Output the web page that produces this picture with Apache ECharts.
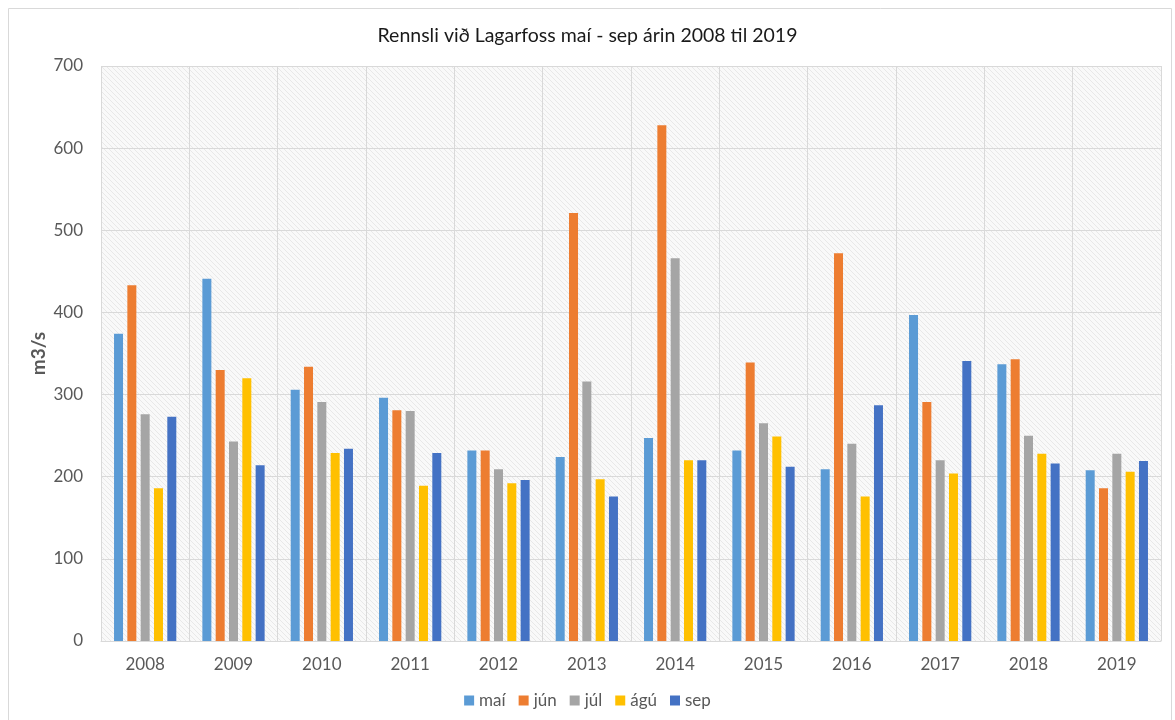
<!DOCTYPE html>
<html>
<head>
<meta charset="utf-8">
<script src="https://cdn.jsdelivr.net/npm/echarts@6/dist/echarts.min.js"></script>
<style>html,body{margin:0;padding:0;background:#fff}#c{width:1175px;height:720px}</style>
</head>
<body>
<div id="c"></div>
<script>
const years = ['2008','2009','2010','2011','2012','2013','2014','2015','2016','2017','2018','2019'];
const mai = [374, 441, 306, 296, 232, 224, 247, 232, 209, 397, 337, 208];
const jun = [433, 330, 334, 281, 232, 521, 628, 339, 472, 291, 343, 186];
const jul = [276, 243, 291, 280, 209, 316, 466, 265, 240, 220, 250, 228];
const agu = [186, 320, 229, 189, 192, 197, 220, 249, 176, 204, 228, 206];
const sep = [273, 214, 234, 229, 196, 176, 220, 212, 287, 341, 216, 219];
const seriesNames = ['maí','jún','júl','ágú','sep'];
const seriesColors = ['#5b9bd5','#ed7d31','#a5a5a5','#ffc000','#4472c4'];
const seriesData = [mai, jun, jul, agu, sep];

// hatch pattern for plot background
const pc = document.createElement('canvas');
pc.width = 5; pc.height = 5;
const ctx = pc.getContext('2d');
ctx.fillStyle = '#f9f9f9';
ctx.fillRect(0,0,5,5);
ctx.strokeStyle = '#e8e8e8';
ctx.lineWidth = 1;
ctx.beginPath();
ctx.moveTo(-1,-1); ctx.lineTo(6,6);
ctx.moveTo(-1,4); ctx.lineTo(1,6);
ctx.moveTo(4,-1); ctx.lineTo(6,1);
ctx.stroke();

const chart = echarts.init(document.getElementById('c'), null, {renderer:'canvas'});
const font = 'Lato, "Open Sans", sans-serif';
chart.setOption({
  animation: false,
  textStyle: { fontFamily: font },
  title: {
    text: 'Rennsli við Lagarfoss maí - sep árin 2008 til 2019',
    left: 'center', top: 21,
    textStyle: { fontFamily: font, fontSize: 19.5, fontWeight: 'normal', color: '#1a1a1a' }
  },
  graphic: [{
    type: 'rect', silent: true, z: -10,
    shape: { x: 8.5, y: 8.5, width: 1163, height: 730 },
    style: { fill: null, stroke: '#d9d9d9', lineWidth: 1 }
  }],
  legend: {
    data: seriesNames,
    bottom: 6, left: 'center',
    itemWidth: 10, itemHeight: 10, itemGap: 13,
    icon: 'rect',
    textStyle: { fontFamily: font, fontSize: 17, color: '#595959' }
  },
  grid: {
    left: 101, right: 14, top: 66, bottom: 79,
    show: true, borderWidth: 0,
    backgroundColor: { image: pc, repeat: 'repeat' }
  },
  xAxis: {
    type: 'category',
    data: years,
    axisTick: { show: false },
    axisLine: { lineStyle: { color: '#d9d9d9', width: 1 } },
    axisLabel: { fontFamily: font, fontSize: 17, color: '#595959', margin: 15 },
    splitLine: { show: true, lineStyle: { color: '#d9d9d9', width: 1 } }
  },
  yAxis: {
    type: 'value',
    min: 0, max: 700, interval: 100,
    name: 'm3/s',
    nameLocation: 'middle',
    nameRotate: 90,
    nameGap: 53,
    nameMoveOverlap: false,
    nameTextStyle: { fontFamily: font, fontSize: 19, fontWeight: 'bold', color: '#595959' },
    axisLine: { show: false },
    axisTick: { show: false },
    axisLabel: { fontFamily: font, fontSize: 17, color: '#595959', margin: 18 },
    splitLine: { lineStyle: { color: '#d9d9d9', width: 1 } }
  },
  series: seriesNames.map((n, i) => ({
    name: n,
    type: 'bar',
    data: seriesData[i],
    barWidth: 9,
    barGap: '48%',
    itemStyle: { color: seriesColors[i] }
  }))
});
</script>
</body>
</html>
